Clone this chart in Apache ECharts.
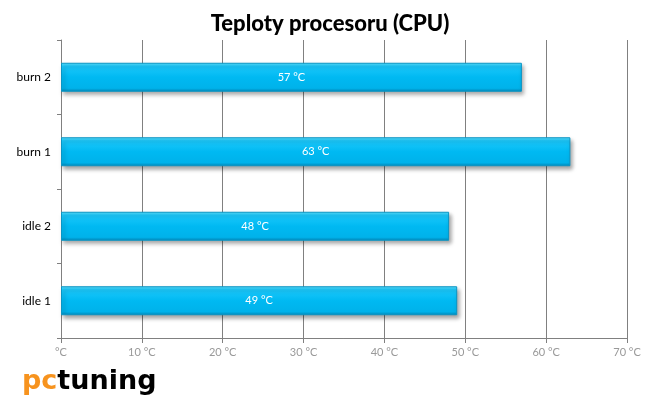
<!DOCTYPE html>
<html><head><meta charset="utf-8">
<script src="https://cdn.jsdelivr.net/npm/echarts@6/dist/echarts.min.js"></script>
<style>html,body{margin:0;padding:0;background:#fff}#c{width:660px;height:400px}</style>
</head><body><div id="c"></div>
<script>
const categories = ['idle 1', 'idle 2', 'burn 1', 'burn 2'];
const values = [49, 48, 63, 57];
const xTicks = [0, 10, 20, 30, 40, 50, 60, 70];

const chart = echarts.init(document.getElementById('c'));
chart.setOption({
  animation: false,
  title: {
    text: 'Teploty procesoru (CPU)', left: 'center', top: 8,
    textStyle: { fontFamily: 'Lato', fontWeight: 900, fontSize: 22, color: '#000' }
  },
  grid: { left: 61, right: 33, top: 40, bottom: 62 },
  xAxis: {
    type: 'value', min: 0, max: 70, interval: 10,
    axisLine: { show: true, lineStyle: { color: '#808080' } },
    axisTick: { show: true, length: 5, lineStyle: { color: '#808080' } },
    splitLine: { show: true, lineStyle: { color: '#808080', width: 1 } },
    axisLabel: {
      color: '#999', fontSize: 11, fontFamily: 'Lato', margin: 9,
      formatter: v => v === 0 ? '°C' : v + ' °C'
    }
  },
  yAxis: {
    type: 'category', data: categories,
    axisLine: { show: true, lineStyle: { color: '#808080' } },
    axisTick: { show: true, length: 4, lineStyle: { color: '#808080' } },
    axisLabel: { color: '#000', fontSize: 12, fontFamily: 'Lato', margin: 10 }
  },
  series: [{
    type: 'bar', data: values, barWidth: 29,
    itemStyle: {
      color: new echarts.graphic.LinearGradient(0, 0, 0, 1, [
        { offset: 0, color: '#5fe3ff' },
        { offset: 0.12, color: '#1cc8fb' },
        { offset: 0.5, color: '#00b9f2' },
        { offset: 0.88, color: '#00b2ea' },
        { offset: 1, color: '#0087b8' }
      ]),
      borderColor: '#0a95c4', borderWidth: 1,
      shadowColor: 'rgba(0,0,0,0.35)', shadowBlur: 4, shadowOffsetX: 2, shadowOffsetY: 3
    },
    label: {
      show: true, position: 'inside', color: '#fff', fontSize: 11, fontFamily: 'Lato',
      formatter: p => p.value + ' °C'
    }
  }],
  graphic: [{
    type: 'text', left: 22, top: 368,
    style: { text: '{a|pc}{b|tuning}', rich: {
      a: { fill: '#f7931e', fontSize: 27, fontWeight: 'bold', fontFamily: 'DejaVu Sans' },
      b: { fill: '#000', fontSize: 27, fontWeight: 'bold', fontFamily: 'DejaVu Sans' }
    } }
  }]
});
</script></body></html>
